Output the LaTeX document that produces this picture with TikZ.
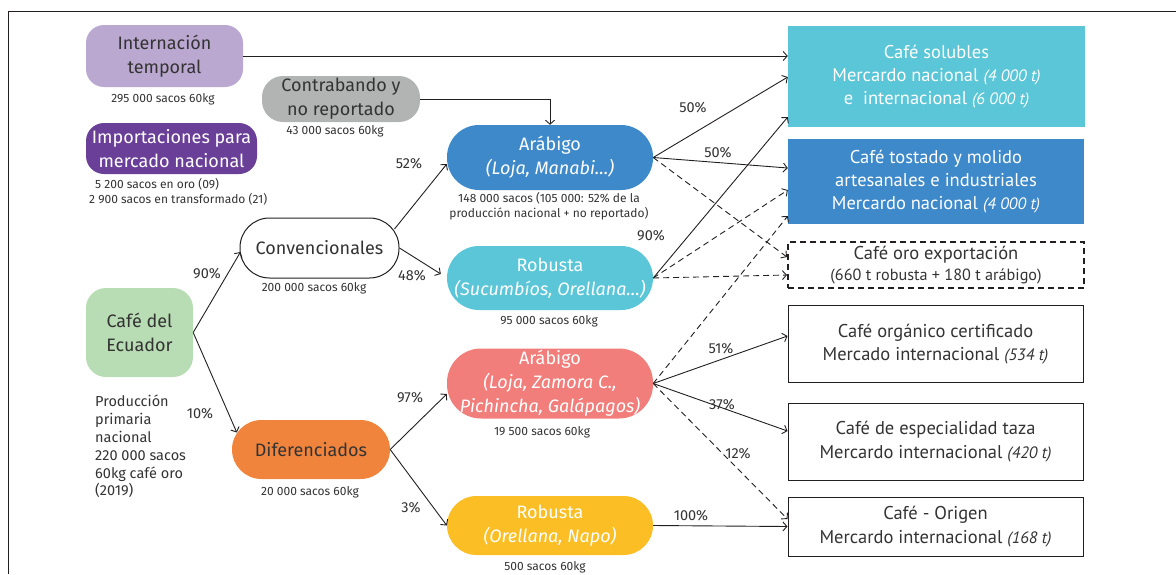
\documentclass[tikz,border=0pt]{standalone}
\usepackage{fontspec}
\setmainfont{Fira Sans}
\newfontfamily\rfont{PT Sans}
\newcommand\smit{\rfont\fontsize{16.5}{19}\selectfont\itshape}
\usetikzlibrary{arrows.meta,calc}
\definecolor{txt}{HTML}{333333}
\definecolor{ln}{HTML}{231F20}
\definecolor{cintern}{HTML}{BBA8D1}
\definecolor{ccontra}{HTML}{B2B4B4}
\definecolor{cimpor}{HTML}{6A3F98}
\definecolor{cecu}{HTML}{B8DCB3}
\definecolor{cdif}{HTML}{F0843C}
\definecolor{cblue}{HTML}{3E89C9}
\definecolor{ccyan}{HTML}{5AC6D7}
\definecolor{cpink}{HTML}{F27E7C}
\definecolor{cyel}{HTML}{FBBF25}
\begin{document}
\begin{tikzpicture}[x=1pt,y=-1pt,
  lbox/.style={align=center, inner sep=0pt, text=txt, font=\fontsize{18}{24}\selectfont},
  rbox/.style={align=center, inner sep=0pt, text=txt, font=\rfont\fontsize{18.5}{23}\selectfont},
  conn/.style={draw=ln, line width=0.9pt, -{Straight Barb[length=4pt,width=9pt]}},
  dconn/.style={conn, dash pattern=on 6pt off 4pt},
  pct/.style={font=\fontsize{14.5}{16}\selectfont, text=txt, inner sep=0pt},
  capt/.style={font=\fontsize{12}{15}\selectfont, text=txt, inner sep=0pt, align=center}
]
\useasboundingbox (0,0) rectangle (1176,574);
\draw[ln, line width=1pt] (8,574) -- (8,11) -- (1176,11);

% left nodes
\node[lbox, fill=cintern, rounded corners=18pt, minimum width=157pt, minimum height=62pt] (intern) at (164.5,56) {Internación\\temporal};
\node[lbox, fill=ccontra, rounded corners=21pt, minimum width=158pt, minimum height=46pt] (contra) at (341,99) {Contrabando y\\no reportado};
\node[lbox, fill=cimpor, text=white, rounded corners=18pt, minimum width=171pt, minimum height=51pt] (impor) at (171.5,148.5) {Importaciones para\\mercado nacional};
\node[lbox, fill=cecu, rounded corners=20pt, minimum width=107pt, minimum height=89pt] (ecu) at (139.5,332.5) {Café del\\Ecuador};
\node[lbox, draw=ln, line width=1pt, fill=white, rounded corners=29.5pt, minimum width=159pt, minimum height=60pt] (conv) at (319.5,248) {Convencionales};
\node[lbox, fill=cdif, rounded corners=29.5pt, minimum width=158pt, minimum height=59pt] (dif) at (311,449.5) {Diferenciados};
\node[lbox, fill=cblue, text=white, rounded corners=32pt, minimum width=206pt, minimum height=65pt] (arab) at (550,157.5) {Arábigo\\\textit{(Loja, Manabi…)}};
\node[lbox, fill=ccyan, text=white, rounded corners=32pt, minimum width=206pt, minimum height=64pt] (rob) at (550,278) {Robusta\\\textit{(Sucumbíos, Orellana…)}};
\node[lbox, fill=cpink, text=white, rounded corners=34pt, minimum width=206pt, minimum height=70pt] (pink) at (550,383.5) {Arábigo\\\textit{(Loja, Zamora C.,}\\\textit{Pichincha, Galápagos)}};
\node[lbox, fill=cyel, text=white, rounded corners=29.5pt, minimum width=206pt, minimum height=59pt] (yel) at (550,525.5) {Robusta\\\textit{(Orellana, Napo)}};

% right boxes
\node[rbox, fill=ccyan, text=white, minimum width=297pt, minimum height=101pt] (solub) at (936.5,76.5) {Café solubles\\Mercardo nacional {\smit (4~000 t)}\\e\ \ internacional {\smit (6~000 t)}};
\node[rbox, fill=cblue, text=white, minimum width=296pt, minimum height=85pt] (tost) at (936,181.5) {Café tostado y molido\\artesanales e industriales\\Mercardo nacional {\smit (4~000 t)}};
\node[rbox, draw=ln, line width=2pt, dash pattern=on 6pt off 4pt, minimum width=296pt, minimum height=46pt, font=\rfont\fontsize{18.5}{21}\selectfont] (oro) at (936,265) {Café oro exportación\\{\rfont\fontsize{16.2}{18}\selectfont (660 t robusta + 180 t arábigo)}};
\node[rbox, draw=ln, line width=1pt, minimum width=295pt, minimum height=77pt] (organ) at (935.5,344) {Café orgánico certificado\\Mercado internacional {\smit (534 t)}};
\node[rbox, draw=ln, line width=1pt, minimum width=295pt, minimum height=77pt, font=\rfont\fontsize{18.5}{24}\selectfont] (espec) at (935.5,441.5) {Café de especialidad taza\\Mercardo internacional {\smit (420 t)}};
\node[rbox, draw=ln, line width=1pt, minimum width=295pt, minimum height=59pt, font=\rfont\fontsize{18.5}{24}\selectfont] (orig) at (935.5,526.5) {Café - Origen\\Mercardo internacional {\smit (168 t)}};

% captions
\node[capt] (c1) at (163,99) {295 000 sacos 60kg};
\node[capt] (c2) at (335,131) {43 000 sacos 60kg};
\node[capt, anchor=west] (c3) at (95,184) {5 200 sacos en oro (09)};
\node[capt, anchor=west] (c4) at (89,199) {2 900 sacos en transformado (21)};
\node[capt] (c5) at (314,288) {200 000 sacos 60kg};
\node[capt] (c6) at (310,492) {20 000 sacos 60kg};
\node[capt] (c7) at (549,206.5) {148 000 sacos (105 000: 52\% de la\\producción nacional + no reportado)};
\node[capt] (c8) at (549,321) {95 000 sacos 60kg};
\node[capt] (c9) at (542,432) {19 500 sacos 60kg};
\node[capt] (c10) at (545,567) {500 sacos 60kg};
\node[capt, align=left, anchor=north west, font=\fontsize{14.5}{17.8}\selectfont] (prod) at (95,395) {Producción\\primaria\\nacional\\220 000 sacos\\60kg café oro\\(2019)};

% connectors
\draw[conn] (intern.east) -- ([yshift=20.5pt]solub.west);
\draw[conn] (contra.east) -| (arab.north);
\draw[conn] (ecu.east) -- ($(conv.west)+(1,4)$);
\draw[conn] (ecu.east) -- ($(dif.west)+(5,-17)$);
\draw[conn] ($(conv.east)+(-5,-19)$) -- ($(arab.west)+(0,6.5)$);
\draw[conn] (conv.east) -- ($(rob.west)+(-6,-4)$);
\draw[conn] (dif.east) -- ($(pink.west)+(0,10.5)$);
\draw[conn] (dif.east) -- (yel.west);

\draw[conn] (arab.east) -- ([yshift=-0.5pt]solub.west);
\draw[conn] (arab.east) -- ([yshift=13.5pt]tost.west);
\draw[dconn] (arab.east) -- ([yshift=8pt]oro.west);
\draw[conn] (rob.east) -- ([yshift=-40.5pt]solub.west);
\draw[dconn] (rob.east) -- ([yshift=-8.5pt]tost.west);
\draw[dconn] (rob.east) -- ([yshift=-10pt]oro.west);
\draw[dconn] (pink.east) -- ([yshift=-34.5pt]tost.west);
\draw[conn] (pink.east) -- ([yshift=8pt]organ.west);
\draw[conn] (pink.east) -- ([yshift=10.5pt]espec.west);
\draw[dconn] (pink.east) -- ([yshift=7.5pt]orig.west);
\draw[conn] (yel.east) -- (orig.west);

% percentages
\node[pct] (p1) at (207,274) {90\%};
\node[pct] (p2) at (200,414) {10\%};
\node[pct] (p3) at (409,164) {52\%};
\node[pct] (p4) at (412,276) {48\%};
\node[pct] (p5) at (410,398) {97\%};
\node[pct] (p6) at (411,508) {3\%};
\node[pct] (p7) at (693,108) {50\%};
\node[pct] (p8) at (718,153) {50\%};
\node[pct] (p9) at (651,236) {90\%};
\node[pct] (p10) at (721,349) {51\%};
\node[pct] (p11) at (722,405) {37\%};
\node[pct] (p12) at (738,454) {12\%};
\node[pct] (p13) at (691,516) {100\%};
\end{tikzpicture}
\end{document}
